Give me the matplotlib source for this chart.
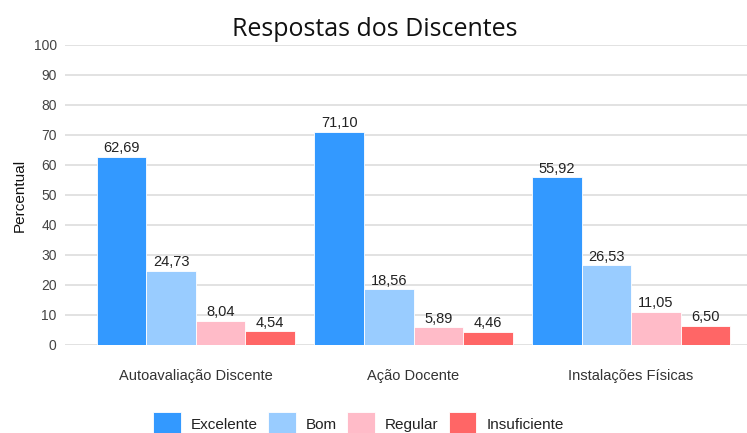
import numpy as np
import matplotlib
matplotlib.use('Agg')
import matplotlib.pyplot as plt

categorias = ['Autoavaliação Discente', 'Ação Docente', 'Instalações Físicas']
series = ['Excelente', 'Bom', 'Regular', 'Insuficiente']
excelente = [62.69, 71.10, 55.92]
bom = [24.73, 18.56, 26.53]
regular = [8.04, 5.89, 11.05]
insuficiente = [4.54, 4.46, 6.50]
cores = ['#3399ff', '#99ccff', '#ffbbc8', '#ff6666']

plt.rcParams['font.family'] = ['Liberation Sans', 'DejaVu Sans']

fig = plt.figure(figsize=(7.47, 4.33), dpi=100)
ax = fig.add_axes([65 / 747, 1 - 345 / 433, 1 - 65 / 747, 300 / 433])

x = np.arange(len(categorias))
w = 0.2276
valores = [excelente, bom, regular, insuficiente]
for i, (nome, vals) in enumerate(zip(series, valores)):
    pos = x + (i - 1.5) * w
    bars = ax.bar(pos, vals, w, color=cores[i], label=nome,
                  edgecolor='white', linewidth=0.6, zorder=3)
    for b, v in zip(bars, vals):
        ax.text(b.get_x() + b.get_width() / 2, v + 0.5,
                format(v, '.2f').replace('.', ','),
                ha='center', va='bottom', fontsize=10.5, color='#222222')

ax.set_ylim(0, 100)
ax.set_xlim(-0.602, 2.533)
ax.set_yticks(range(0, 101, 10))
ax.yaxis.grid(True, color='#dddddd', linewidth=1.2, zorder=0)
for s in ax.spines.values():
    s.set_visible(False)
ax.tick_params(axis='both', length=0, labelsize=10, colors='#444444')
ax.tick_params(axis='y', pad=6)
ax.tick_params(axis='x', pad=17, labelsize=10.5)
ax.set_xticks(x)
ax.set_xticklabels(categorias, color='#333333')
ax.set_ylabel('Percentual', fontsize=11, color='#111111', labelpad=5)

fig.text(0.502, 0.933, 'Respostas dos Discentes', ha='center', va='center',
         fontsize=18, family=['Open Sans', 'DejaVu Sans'], color='#111111')

fig.legend(loc='center', bbox_to_anchor=(0.48, 0.021), ncol=4, frameon=False,
           fontsize=11, handlelength=1.83, handleheight=2.0,
           handletextpad=0.65, columnspacing=0.65, labelcolor='#222222')

fig.savefig('out.png', dpi=100)
